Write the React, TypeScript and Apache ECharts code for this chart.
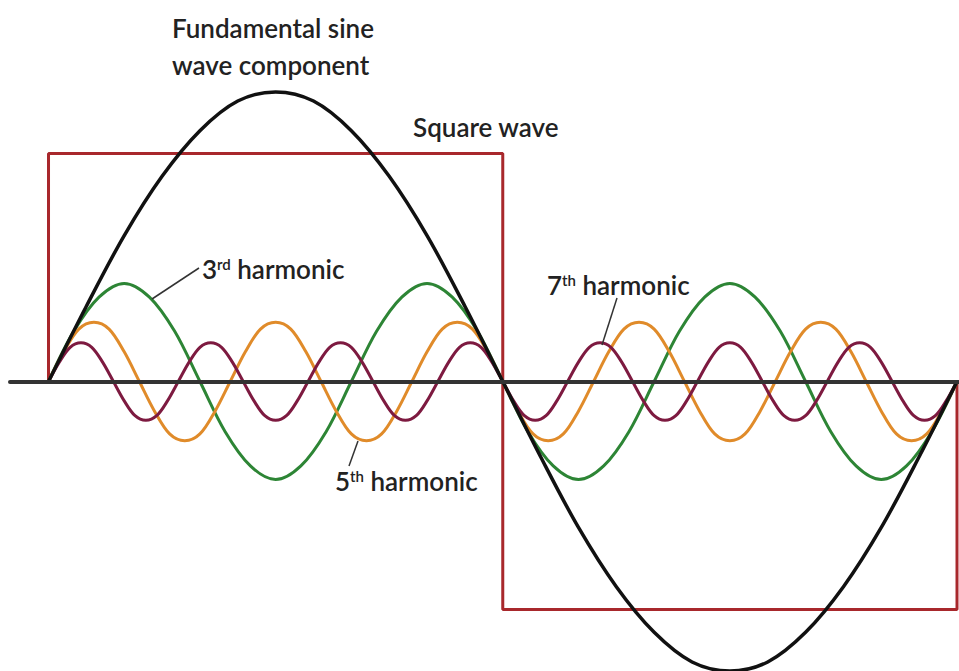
import React, { useEffect, useRef } from "react";
import * as echarts from "echarts";

// Phase range (degrees of the fundamental) and value range
const X_MIN = -15.26;
const X_MAX = 360.79;
const Y_MIN = -1.2697;
const Y_MAX = 1.6732;

// Square wave corner points [phase, value]
const squareWave: [number, number][] = [
  [0, 0], [0, 1], [180, 1], [180, -1], [360, -1], [360, 0],
];

// Fundamental sine, sampled every 15°
const fundStep = 15;
const fundamental = [
  0, 0.33, 0.64, 0.9, 1.1, 1.23, 1.27, 1.23, 1.1, 0.9, 0.64, 0.33,
  0, -0.33, -0.64, -0.9, -1.1, -1.23, -1.27, -1.23, -1.1, -0.9, -0.64, -0.33,
  0,
];

// 3rd harmonic, sampled every 10°
const thirdStep = 10;
const third = [
  0, 0.22, 0.37, 0.43, 0.37, 0.22, 0, -0.22, -0.37, -0.43, -0.37, -0.22,
  0, 0.22, 0.37, 0.43, 0.37, 0.22, 0, -0.22, -0.37, -0.43, -0.37, -0.22,
  0, 0.22, 0.37, 0.43, 0.37, 0.22, 0, -0.22, -0.37, -0.43, -0.37, -0.22,
  0,
];

// 5th harmonic, sampled every 6°
const fifthStep = 6;
const fifth = [
  0, 0.13, 0.23, 0.26, 0.23, 0.13, 0, -0.13, -0.23, -0.26, -0.23, -0.13,
  0, 0.13, 0.23, 0.26, 0.23, 0.13, 0, -0.13, -0.23, -0.26, -0.23, -0.13,
  0, 0.13, 0.23, 0.26, 0.23, 0.13, 0, -0.13, -0.23, -0.26, -0.23, -0.13,
  0, 0.13, 0.23, 0.26, 0.23, 0.13, 0, -0.13, -0.23, -0.26, -0.23, -0.13,
  0, 0.13, 0.23, 0.26, 0.23, 0.13, 0, -0.13, -0.23, -0.26, -0.23, -0.13,
  0,
];

// 7th harmonic, sampled every 360/84°
const seventhStep = 360 / 84;
const seventh = [
  0, 0.085, 0.15, 0.17, 0.15, 0.085, 0, -0.085, -0.15, -0.17, -0.15, -0.085,
  0, 0.085, 0.15, 0.17, 0.15, 0.085, 0, -0.085, -0.15, -0.17, -0.15, -0.085,
  0, 0.085, 0.15, 0.17, 0.15, 0.085, 0, -0.085, -0.15, -0.17, -0.15, -0.085,
  0, 0.085, 0.15, 0.17, 0.15, 0.085, 0, -0.085, -0.15, -0.17, -0.15, -0.085,
  0, 0.085, 0.15, 0.17, 0.15, 0.085, 0, -0.085, -0.15, -0.17, -0.15, -0.085,
  0, 0.085, 0.15, 0.17, 0.15, 0.085, 0, -0.085, -0.15, -0.17, -0.15, -0.085,
  0, 0.085, 0.15, 0.17, 0.15, 0.085, 0, -0.085, -0.15, -0.17, -0.15, -0.085,
  0,
];

const pairs = (vals: number[], step: number) => vals.map((v, i) => [i * step, v]);

const FONT = "Lato, 'Open Sans', sans-serif";
const TEXT_COLOR = "#222222";
const SMOOTH = 0.33;

export default function App() {
  const ref = useRef<HTMLDivElement>(null);

  useEffect(() => {
    document.body.style.margin = "0";
    const chart = echarts.init(ref.current!, null, { renderer: "svg" });

    const baseText = {
      fill: TEXT_COLOR,
      fontSize: 26,
      fontFamily: FONT,
      fontWeight: 600,
      align: "left",
      verticalAlign: "middle",
    };
    const rich = {
      sup: { fontSize: 15, fontFamily: FONT, fontWeight: 600, fill: TEXT_COLOR, verticalAlign: "top" },
    };

    chart.setOption({
      animation: false,
      backgroundColor: "#ffffff",
      grid: { left: 10, right: 0, top: 0, bottom: 0, containLabel: false },
      xAxis: {
        type: "value",
        min: X_MIN,
        max: X_MAX,
        z: 5,
        axisLine: { show: true, onZero: true, lineStyle: { color: "#333333", width: 4 } },
        axisTick: { show: false },
        axisLabel: { show: false },
        splitLine: { show: false },
      },
      yAxis: {
        type: "value",
        min: Y_MIN,
        max: Y_MAX,
        show: false,
        splitLine: { show: false },
      },
      series: [
        {
          name: "Square wave",
          type: "line",
          data: squareWave,
          symbol: "none",
          clip: false,
          lineStyle: { color: "#a8282c", width: 3 },
        },
        {
          name: "3rd harmonic",
          type: "line",
          data: pairs(third, thirdStep),
          smooth: SMOOTH,
          symbol: "none",
          clip: false,
          lineStyle: { color: "#2d8535", width: 3 },
        },
        {
          name: "5th harmonic",
          type: "line",
          data: pairs(fifth, fifthStep),
          smooth: SMOOTH,
          symbol: "none",
          clip: false,
          lineStyle: { color: "#e08b2a", width: 3 },
        },
        {
          name: "7th harmonic",
          type: "line",
          data: pairs(seventh, seventhStep),
          smooth: SMOOTH,
          symbol: "none",
          clip: false,
          lineStyle: { color: "#7d1a40", width: 3 },
        },
        {
          name: "Fundamental",
          type: "line",
          data: pairs(fundamental, fundStep),
          smooth: SMOOTH,
          symbol: "none",
          clip: false,
          lineStyle: { color: "#111111", width: 3.5 },
        },
      ],
      graphic: [
        { type: "text", x: 172, y: 28, z: 10, style: { ...baseText, text: "Fundamental sine" } },
        { type: "text", x: 172, y: 65, z: 10, style: { ...baseText, text: "wave component" } },
        { type: "text", x: 413, y: 127, z: 10, style: { ...baseText, text: "Square wave" } },
        { type: "text", x: 202, y: 269, z: 10, style: { ...baseText, text: "3{sup|rd} harmonic", rich } },
        { type: "text", x: 547, y: 285, z: 10, style: { ...baseText, text: "7{sup|th} harmonic", rich } },
        { type: "text", x: 335, y: 481, z: 10, style: { ...baseText, text: "5{sup|th} harmonic", rich } },
        { type: "line", z: 10, shape: { x1: 199, y1: 268, x2: 152, y2: 299 }, style: { stroke: "#333333", lineWidth: 1.5 } },
        { type: "line", z: 10, shape: { x1: 617, y1: 298, x2: 602, y2: 345 }, style: { stroke: "#333333", lineWidth: 1.5 } },
        { type: "line", z: 10, shape: { x1: 358, y1: 441, x2: 349, y2: 466 }, style: { stroke: "#333333", lineWidth: 1.5 } },
      ],
    });

    return () => chart.dispose();
  }, []);

  return (
    <div
      ref={ref}
      style={{ position: "fixed", left: 0, top: 0, width: 959, height: 671 }}
    />
  );
}
